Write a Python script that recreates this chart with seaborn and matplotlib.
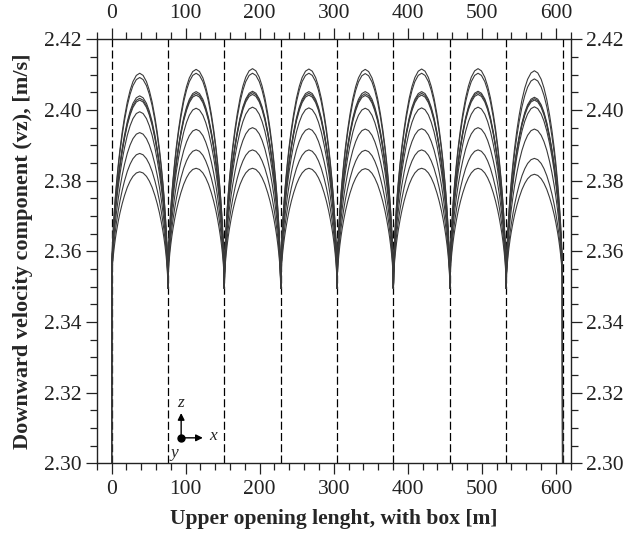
import numpy as np
import pandas as pd
import matplotlib
matplotlib.use("Agg")
import matplotlib.pyplot as plt
import seaborn as sns
from matplotlib.ticker import MultipleLocator, FormatStrFormatter

# ---------------- data ----------------
# x positions of the box walls (dashed lines) [m]
junction_x = [0.0, 76.1, 152.3, 228.4, 304.5, 380.6, 456.8, 532.9, 609.0]
# vz where the arches meet (ends drop below the axis)
junction_vz = [2.290, 2.3495, 2.3495, 2.3495, 2.3495, 2.3495, 2.3495, 2.3495, 2.290]
base_vz = 2.3495

# peak vz of each curve in each of the 8 openings (top curve first)
curve_1 = [2.4104, 2.4115, 2.4117, 2.4116, 2.4115, 2.4116, 2.4117, 2.4111]
curve_2 = [2.4092, 2.4104, 2.4104, 2.4104, 2.4103, 2.4104, 2.4104, 2.4088]
curve_3 = [2.4040, 2.4052, 2.4053, 2.4052, 2.4052, 2.4052, 2.4053, 2.4036]
curve_4 = [2.4033, 2.4047, 2.4049, 2.4047, 2.4046, 2.4047, 2.4049, 2.4032]
curve_5 = [2.4028, 2.4042, 2.4044, 2.4042, 2.4041, 2.4042, 2.4044, 2.4028]
curve_6 = [2.3995, 2.4005, 2.4008, 2.4006, 2.4005, 2.4006, 2.4008, 2.4009]
curve_7 = [2.3936, 2.3945, 2.3950, 2.3947, 2.3946, 2.3947, 2.3950, 2.3946]
curve_8 = [2.3877, 2.3887, 2.3887, 2.3887, 2.3886, 2.3887, 2.3887, 2.3863]
curve_9 = [2.3825, 2.3835, 2.3835, 2.3835, 2.3834, 2.3835, 2.3835, 2.3818]

# normalised arch shape across one opening (fraction of width -> fraction of rise)
profile_t = [0.0, 0.004, 0.01, 0.02, 0.035, 0.05, 0.07, 0.09, 0.12, 0.15, 0.19,
             0.23, 0.28, 0.33, 0.38, 0.44, 0.5]
profile_f = [0.0, 0.090, 0.149, 0.218, 0.296, 0.360, 0.433, 0.495, 0.577, 0.648,
             0.728, 0.796, 0.867, 0.921, 0.961, 0.990, 1.0]

x_ticks = [0, 100, 200, 300, 400, 500, 600]
y_ticks = [2.30, 2.32, 2.34, 2.36, 2.38, 2.40, 2.42]

# ---------------- build long table ----------------
curves = [curve_1, curve_2, curve_3, curve_4, curve_5, curve_6, curve_7, curve_8, curve_9]
t_half = np.array(profile_t)
f_half = np.array(profile_f)
t_full = np.concatenate([t_half, 1 - t_half[-2::-1]])
f_full = np.concatenate([f_half, f_half[-2::-1]])

rows = []
for ci, peaks in enumerate(curves):
    for k, pk in enumerate(peaks):
        x0, x1 = junction_x[k], junction_x[k + 1]
        xs = x0 + t_full * (x1 - x0)
        vs = base_vz + (pk - base_vz) * f_full
        vs[0] = junction_vz[k] if k == 0 else vs[0]
        vs[-1] = junction_vz[k + 1] if k == len(peaks) - 1 else vs[-1]
        start = 0 if k == 0 else 1
        for x, v in zip(xs[start:], vs[start:]):
            rows.append({"x": x, "vz": v, "curve": ci})
df = pd.DataFrame(rows)

# ---------------- plot ----------------
sns.set_style("ticks")
plt.rcParams["font.family"] = ["Liberation Serif", "DejaVu Serif"]

fig = plt.figure(figsize=(6.26, 5.38), dpi=100)
ax = fig.add_axes([0.1545, 0.1389, 0.7572, 0.7880])

for xj in junction_x:
    ax.axvline(xj, color="black", lw=0.9, ls=(0, (6.4, 2.6)), zorder=1)

sns.lineplot(data=df, x="x", y="vz", units="curve", estimator=None, sort=False,
             color="#3a3a3a", lw=0.8, ax=ax, zorder=2)

ax.set_xlim(-20, 620)
ax.set_ylim(2.30, 2.42)
ax.set_xticks(x_ticks)
ax.set_yticks(y_ticks)
ax.xaxis.set_minor_locator(MultipleLocator(20))
ax.yaxis.set_minor_locator(MultipleLocator(0.005))
ax.yaxis.set_major_formatter(FormatStrFormatter("%.2f"))
ax.tick_params(which="both", direction="out", top=True, right=True,
               labeltop=True, labelright=True, colors="#222222",
               labelsize=15.5, width=0.9, pad=3)
ax.tick_params(axis="x", which="both", pad=4)
ax.tick_params(which="major", length=8)
ax.tick_params(which="minor", length=5)
for s in ax.spines.values():
    s.set_visible(True)
    s.set_linewidth(1.0)
    s.set_color("#222222")

ax.set_xlabel("Upper opening lenght, with box [m]", fontsize=15.5,
              fontweight="bold", labelpad=7)
ax.set_ylabel("Downward velocity component (vz), [m/s]", fontsize=16,
              fontweight="bold", labelpad=8)

# coordinate-system glyph
ox, oy = 94, 2.3072
ax.plot([ox], [oy], marker="o", ms=5, color="black", zorder=5)
ax.annotate("", xy=(ox, 2.3150), xytext=(ox, oy),
            arrowprops=dict(arrowstyle="-|>", color="black", lw=1.0,
                            mutation_scale=10))
ax.annotate("", xy=(127, oy), xytext=(ox, oy),
            arrowprops=dict(arrowstyle="-|>", color="black", lw=1.0,
                            mutation_scale=10))
ax.text(ox - 1, 2.3170, "z", fontsize=12.5, style="italic", ha="center", va="center")
ax.text(137, oy + 0.0004, "x", fontsize=12.5, style="italic", ha="center", va="center")
ax.text(ox - 9, 2.3030, "y", fontsize=12.5, style="italic", ha="center", va="center")

fig.savefig("out.png", dpi=100)
